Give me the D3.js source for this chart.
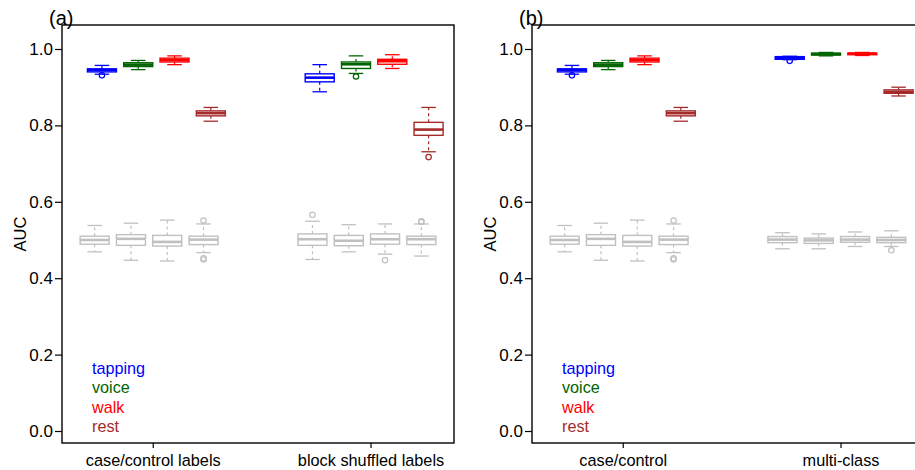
<!DOCTYPE html>
<html>
<head>
<meta charset="utf-8">
<script src="https://cdn.jsdelivr.net/npm/d3@7"></script>
<style>
  body { margin: 0; background: #fff; }
  svg { display: block; font-family: "Liberation Sans", Arial, sans-serif; }
</style>
</head>
<body>
<svg id="chart" width="915" height="470"></svg>
<script>
// ---- data ----
const seriesNames = ["tapping", "voice", "walk", "rest"];
const seriesColors = ["#0000ff", "#006400", "#ff0000", "#a52a2a"];
const permColor = "#c0c0c0";
const panelLabels = ["(a)", "(b)"];
const panelAGroups = ["case/control labels", "block shuffled labels"];
const panelBGroups = ["case/control", "multi-class"];
const yTicks = [0.0, 0.2, 0.4, 0.6, 0.8, 1.0];

// five-number summaries: [lower whisker, q1, median, q3, upper whisker]
const caseControlReal = [
  [0.934, 0.940, 0.945, 0.948, 0.957],
  [0.946, 0.954, 0.959, 0.964, 0.970],
  [0.959, 0.966, 0.971, 0.976, 0.982],
  [0.811, 0.825, 0.832, 0.838, 0.847]
];
const caseControlReal_out = [[0.931], [], [], []];
const caseControlPerm = [
  [0.469, 0.489, 0.500, 0.510, 0.538],
  [0.447, 0.486, 0.503, 0.514, 0.544],
  [0.445, 0.484, 0.495, 0.512, 0.552],
  [0.467, 0.488, 0.501, 0.510, 0.542]
];
const caseControlPerm_out = [[], [], [], [0.551, 0.452, 0.449]];

const blockShuffledReal = [
  [0.888, 0.914, 0.925, 0.935, 0.959],
  [0.936, 0.949, 0.960, 0.966, 0.982],
  [0.949, 0.960, 0.968, 0.973, 0.985],
  [0.731, 0.774, 0.789, 0.808, 0.847]
];
const blockShuffledReal_out = [[], [0.928], [], [0.717]];
const blockShuffledPerm = [
  [0.449, 0.486, 0.502, 0.516, 0.549],
  [0.469, 0.485, 0.498, 0.512, 0.540],
  [0.463, 0.489, 0.502, 0.516, 0.542],
  [0.458, 0.488, 0.502, 0.510, 0.542]
];
const blockShuffledPerm_out = [[0.566], [], [0.447], [0.547, 0.549]];

const multiClassReal = [
  [0.972, 0.973, 0.977, 0.980, 0.981],
  [0.982, 0.984, 0.987, 0.989, 0.991],
  [0.983, 0.985, 0.988, 0.989, 0.991],
  [0.877, 0.884, 0.888, 0.893, 0.900]
];
const multiClassReal_out = [[0.969], [], [], []];
const multiClassPerm = [
  [0.477, 0.493, 0.501, 0.509, 0.519],
  [0.477, 0.491, 0.499, 0.505, 0.516],
  [0.483, 0.494, 0.501, 0.509, 0.521],
  [0.483, 0.493, 0.500, 0.507, 0.524]
];
const multiClassPerm_out = [[], [], [], [0.473]];

// ---- layout ----
const svg = d3.select("#chart");
const plotTop = 25, plotBottom = 443, plotW = 392;
const panelLefts = [62, 532];

const y = d3.scaleLinear().domain([-0.0314, 1.0628]).range([plotBottom, plotTop]);

const panels = [
  { label: panelLabels[0], groups: panelAGroups,
    data: [[caseControlReal, caseControlReal_out, caseControlPerm, caseControlPerm_out],
           [blockShuffledReal, blockShuffledReal_out, blockShuffledPerm, blockShuffledPerm_out]] },
  { label: panelLabels[1], groups: panelBGroups,
    data: [[caseControlReal, caseControlReal_out, caseControlPerm, caseControlPerm_out],
           [multiClassReal, multiClassReal_out, multiClassPerm, multiClassPerm_out]] }
];

function drawBox(g, x, cx, stats, outs, color) {
  const bw = x(0.8) - x(0);
  const sw = bw / 2;
  const [lo, q1, med, q3, hi] = stats;
  const b = g.append("g");
  b.append("line").attr("x1", cx).attr("x2", cx).attr("y1", y(q3)).attr("y2", y(hi))
    .attr("stroke", color).attr("stroke-width", 1.2).attr("stroke-dasharray", "3,3");
  b.append("line").attr("x1", cx).attr("x2", cx).attr("y1", y(q1)).attr("y2", y(lo))
    .attr("stroke", color).attr("stroke-width", 1.2).attr("stroke-dasharray", "3,3");
  b.append("line").attr("x1", cx - sw / 2).attr("x2", cx + sw / 2).attr("y1", y(hi)).attr("y2", y(hi))
    .attr("stroke", color).attr("stroke-width", 1.3);
  b.append("line").attr("x1", cx - sw / 2).attr("x2", cx + sw / 2).attr("y1", y(lo)).attr("y2", y(lo))
    .attr("stroke", color).attr("stroke-width", 1.3);
  b.append("rect").attr("x", cx - bw / 2).attr("width", bw)
    .attr("y", y(q3)).attr("height", Math.max(0.5, y(q1) - y(q3)))
    .attr("fill", "none").attr("stroke", color).attr("stroke-width", 1.4);
  b.append("line").attr("x1", cx - bw / 2).attr("x2", cx + bw / 2).attr("y1", y(med)).attr("y2", y(med))
    .attr("stroke", color).attr("stroke-width", 2.6);
  b.selectAll("circle.o").data(outs).enter().append("circle")
    .attr("cx", cx).attr("cy", d => y(d)).attr("r", 2.7)
    .attr("fill", "none").attr("stroke", color).attr("stroke-width", 1.2);
}

panels.forEach((p, pi) => {
  const left = panelLefts[pi];
  const x = d3.scaleLinear().domain([0.1, 10.9]).range([left, left + plotW]);
  const g = svg.append("g");

  // boxes
  p.data.forEach((grp, gi) => {
    const [real, realOut, perm, permOut] = grp;
    for (let i = 0; i < 4; i++) {
      const pos = 1 + i + gi * 6;
      drawBox(g, x, x(pos), perm[i], permOut[i], permColor);
      drawBox(g, x, x(pos + 0.2), real[i], realOut[i], seriesColors[i]);
    }
  });

  // frame
  g.append("rect").attr("x", left).attr("y", plotTop).attr("width", plotW)
    .attr("height", plotBottom - plotTop).attr("fill", "none")
    .attr("stroke", "#000").attr("stroke-width", 1.4);

  // y axis
  const yAxis = d3.axisLeft(y).tickValues(yTicks).tickFormat(d3.format(".1f"))
    .tickSize(7).tickPadding(2);
  const ya = g.append("g").attr("transform", `translate(${left},0)`).call(yAxis);
  ya.select(".domain").remove();
  ya.selectAll("line").attr("stroke", "#000").attr("stroke-width", 1.2);
  ya.selectAll("text").attr("font-size", 17).attr("fill", "#000")
    .attr("font-family", "Liberation Sans, Arial, sans-serif");

  // x axis
  const xAxis = d3.axisBottom(x).tickValues([2.6, 8.6]).tickFormat((d, i) => p.groups[i])
    .tickSize(5).tickPadding(6);
  const xa = g.append("g").attr("transform", `translate(0,${plotBottom})`).call(xAxis);
  xa.select(".domain").remove();
  xa.selectAll("line").attr("stroke", "#000").attr("stroke-width", 1.2);
  xa.selectAll("text").attr("font-size", 16.3).attr("fill", "#000")
    .attr("font-family", "Liberation Sans, Arial, sans-serif");

  // y label
  g.append("text").attr("transform", `translate(${left - 42},${(plotTop + plotBottom) / 2}) rotate(-90)`)
    .attr("text-anchor", "middle").attr("dy", "0.35em").attr("font-size", 16.5).text("AUC");

  // panel label
  g.append("text").attr("x", left - 13).attr("y", 25).attr("font-size", 20).text(p.label);

  // legend
  seriesNames.forEach((s, i) => {
    g.append("text").attr("x", left + 30).attr("y", 368 + i * 19.6).attr("dy", "0.35em")
      .attr("font-size", 16.2).attr("fill", seriesColors[i]).text(s);
  });
});
</script>
</body>
</html>
